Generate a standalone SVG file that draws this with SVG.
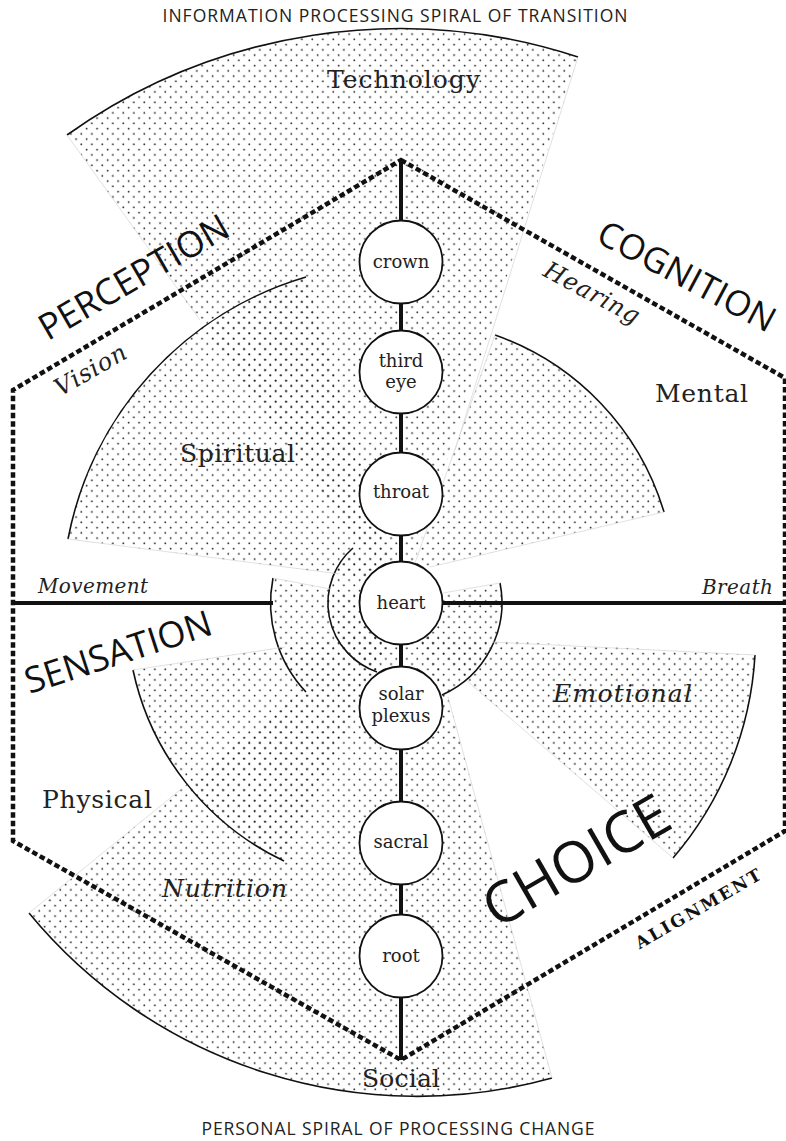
<svg xmlns="http://www.w3.org/2000/svg" width="786" height="1141" viewBox="0 0 786 1141">
<defs>
<pattern id="dots" width="10.5" height="10.5" patternUnits="userSpaceOnUse">
<circle cx="2.6" cy="2.6" r="0.9" fill="#2a2a2a"/>
<circle cx="7.85" cy="7.85" r="0.9" fill="#2a2a2a"/>
</pattern>
<style>
.sector{fill:url(#dots);stroke:none}
.edge{fill:none;stroke:#d4d4d4;stroke-width:0.7}
.arc{fill:none;stroke:#111;stroke-width:1.6}
.chakra circle{fill:#fff;stroke:#111;stroke-width:1.8}
.ck{font-family:"DejaVu Serif",serif;font-size:18px;fill:#222;text-anchor:middle}
.lbl{font-family:"DejaVu Serif",serif;font-size:25px;fill:#222}
.it{font-style:italic}
.big{font-family:"Open Sans",sans-serif;fill:#111;text-anchor:middle}
.title{font-family:"Open Sans",sans-serif;font-size:17.5px;fill:#222;text-anchor:middle}
.dash{fill:none;stroke:#111;stroke-width:4.5;stroke-dasharray:5.5 3}
.thick{stroke:#111;stroke-width:4;fill:none}
</style>
</defs>
<rect width="786" height="1141" fill="#fff"/>

<g id="sector-technology"><path class="sector" d="M401,603 L67,135 A574,574 0 0 1 578,57 Z"/><path class="arc" d="M67,135 A574,574 0 0 1 578,57"/><text class="lbl" x="327" y="88" textLength="153">Technology</text></g>
<g id="sector-spiritual"><path class="sector" d="M397,582 L68,539 A340,340 0 0 1 306,277 Z"/><path class="arc" d="M68,539 A340,340 0 0 1 306,277"/><text class="lbl" x="180" y="462" textLength="115">Spiritual</text></g>
<g id="sector-mental"><path class="sector" d="M412,571 L495,335 A270,270 0 0 1 664,512 Z"/><path class="arc" d="M495,335 A270,270 0 0 1 664,512"/><text class="lbl" x="655" y="402" textLength="93">Mental</text></g>
<g id="sector-breath"><path class="sector" d="M401,603 L500,583 A101,101 0 0 1 442,695 Z"/><path class="arc" d="M500,583 A101,101 0 0 1 442,695"/></g>
<g id="sector-emotional"><path class="sector" d="M414,636 L755,655 A342,342 0 0 1 673,858 Z"/><path class="arc" d="M755,655 A342,342 0 0 1 673,858"/><text class="lbl it" x="553" y="702" textLength="139">Emotional</text></g>
<g id="sector-social"><path class="sector" d="M420,594 L552,1078 A503,503 0 0 1 29,913 Z"/><path class="arc" d="M552,1078 A503,503 0 0 1 29,913"/><text class="lbl" x="362" y="1087" textLength="78">Social</text><text class="lbl it" x="162" y="897" textLength="125">Nutrition</text></g>
<g id="sector-physical"><path class="sector" d="M395,630 L133,670 A275,275 0 0 0 284,861 Z"/><path class="arc" d="M133,670 A275,275 0 0 0 284,861"/><text class="lbl" x="42" y="808" textLength="110">Physical</text></g>
<g id="sector-movement"><path class="sector" d="M401,603 L273,578 A130,130 0 0 0 306,692 Z"/><path class="arc" d="M273,578 A130,130 0 0 0 306,692"/></g>
<g id="sector-inner"><path class="sector" d="M401,603 L353,548 A73,73 0 0 0 377,672 Z"/><path class="arc" d="M353,548 A73,73 0 0 0 377,672"/></g>

<g id="sector-edges">
<path class="edge" d="M67,135 L200,320 M578,57 L455,450 M495,335 L415,563 M68,539 L340,574 M664,512 L430,567 M500,583 L443,593 M273,578 L330,589 M133,670 L285,647 M29,913 L180,790 M552,1078 L448,697 M755,655 L492,642 M673,858 L467,681"/>
</g>

<g id="connectors">
<path class="dash" d="M401,160 L785,378 L785,831 L401,1060 L13,841 L13,390 Z"/>
<line class="thick" x1="13" y1="603" x2="273" y2="603"/>
<line class="thick" x1="440" y1="603" x2="786" y2="603"/>
<line class="thick" x1="401" y1="160" x2="401" y2="1060"/>
</g>

<g id="chakra-crown" class="chakra"><circle cx="401" cy="262" r="41.5"/><text class="ck" x="401" y="268">crown</text></g>
<g id="chakra-third-eye" class="chakra"><circle cx="401" cy="372" r="41.5"/><text class="ck" x="401" y="367">third</text><text class="ck" x="401" y="388">eye</text></g>
<g id="chakra-throat" class="chakra"><circle cx="401" cy="494" r="41.5"/><text class="ck" x="401" y="498">throat</text></g>
<g id="chakra-heart" class="chakra"><circle cx="401" cy="603" r="41.5"/><text class="ck" x="401" y="609">heart</text></g>
<g id="chakra-solar-plexus" class="chakra"><circle cx="401" cy="708" r="41.5"/><text class="ck" x="401" y="700">solar</text><text class="ck" x="401" y="722">plexus</text></g>
<g id="chakra-sacral" class="chakra"><circle cx="401" cy="843" r="41.5"/><text class="ck" x="401" y="848">sacral</text></g>
<g id="chakra-root" class="chakra"><circle cx="401" cy="956" r="41.5"/><text class="ck" x="401" y="962">root</text></g>

<g id="labels">
<text class="title" x="395" y="22" textLength="465">INFORMATION PROCESSING SPIRAL OF TRANSITION</text>
<text class="title" x="398" y="1135" textLength="393">PERSONAL SPIRAL OF PROCESSING CHANGE</text>
<text class="lbl it" x="38" y="593" textLength="110" style="font-size:20px">Movement</text>
<text class="lbl it" x="702" y="594" textLength="71" style="font-size:20px">Breath</text>
<text class="lbl it" text-anchor="middle" style="font-size:24px" textLength="79" transform="translate(94.5,377) rotate(-30)">Vision</text>
<text class="lbl it" text-anchor="middle" style="font-size:24px" textLength="105" transform="translate(588,300) rotate(28)">Hearing</text>
<text class="big" style="font-size:36px" textLength="213" transform="translate(140,288) rotate(-30)">PERCEPTION</text>
<text class="big" style="font-size:35px" textLength="196" transform="translate(681,287) rotate(28)">COGNITION</text>
<text class="big" style="font-size:36px" transform="translate(122,664) rotate(-18)">SENSATION</text>
<text class="big" style="font-size:57px" transform="translate(586,878) rotate(-30)">CHOICE</text>
<text style="font-family:'DejaVu Serif',serif;font-weight:bold;font-size:17px;fill:#111" text-anchor="middle" textLength="142" transform="translate(701,914) rotate(-30)">ALIGNMENT</text>
</g>
</svg>
